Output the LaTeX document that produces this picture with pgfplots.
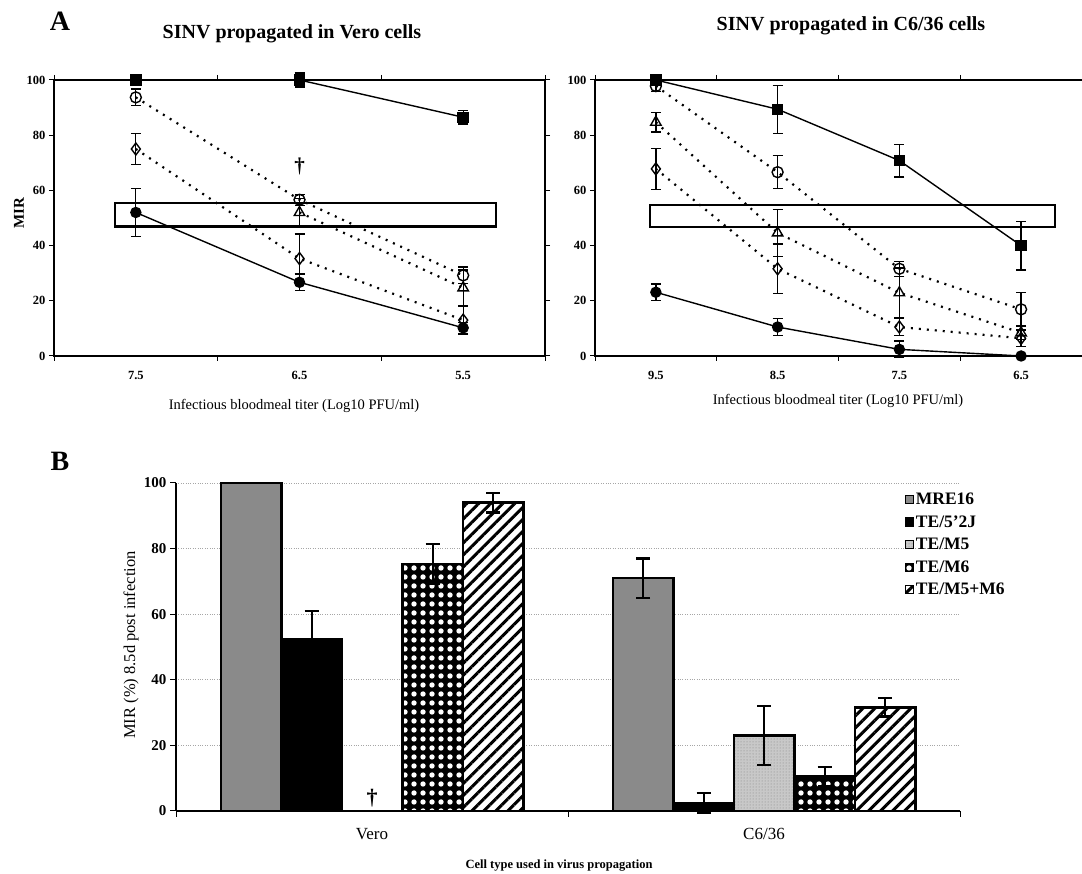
\documentclass[border=0pt]{standalone}
\usepackage{fontspec}
\setmainfont{Liberation Serif}
\usepackage{pgfplots}
\pgfplotsset{compat=1.18}
\usetikzlibrary{patterns,patterns.meta}
\definecolor{mregray}{RGB}{138,138,138}
\definecolor{m5gray}{RGB}{200,200,200}
\definecolor{framegray}{RGB}{90,90,90}
\pgfplotsset{
  topax/.style={scale only axis, ymin=0, ymax=100, ytick={0,20,...,100},
    tick align=outside, major tick length=5pt,
    axis line style={line width=1.2pt}, tick style={line width=1pt, black},
    clip=false,
    tick label style={font=\bfseries\fontsize{12.5}{14}\selectfont},
    /pgf/number format/assume math mode=true,
    xticklabels={},
    extra x tick style={tick style={draw=none},
      tick label style={yshift=-7pt}}},
  solidline/.style={black, line width=1.4pt, mark options={solid}},
  dotline/.style={black, line width=2.2pt, dash pattern=on 2pt off 6pt,
    mark options={solid, fill=white, line width=1.4pt}},
  eb/.style={error bars/.cd, y dir=both, y explicit,
    error bar style={line width=1.3pt, solid},
    error mark options={rotate=90, mark size=5pt, line width=1.3pt, solid}},
  ebb/.style={error bars/.cd, y dir=both, y explicit,
    error bar style={line width=2pt, solid, black},
    error mark options={rotate=90, mark size=7pt, line width=2.2pt, solid, black}},
  onebar/.style={ybar, bar width=60.5, bar shift=0pt, draw=black, line width=2.5pt},
}
\begin{document}
\begin{tikzpicture}
\useasboundingbox (0,0) rectangle (1082pt,874pt);
\fill[white] (0,0) rectangle (1082pt,874pt);

% ---------------- Panel A left ----------------
\begin{axis}[topax, at={(54pt,518pt)}, anchor=south west,
  width=491pt, height=276pt, xmin=-0.5, xmax=2.5,
  xtick={-0.5,0.5,1.5,2.5},
  extra x ticks={0,1,2}, extra x tick labels={7.5,6.5,5.5}]
\addplot[black, line width=2.2pt, no marks, line cap=rect, line join=miter]
  coordinates {(-0.126,46.9) (2.2,46.9) (2.2,55.5) (-0.126,55.5) (-0.126,46.9)};
% MRE16 (filled square)
\addplot[solidline, mark=square*, mark size=5pt, eb] coordinates {
  (0,100) +- (0,0.5) (1,100) +- (0,2.5) (2,86.5) +- (0,2.5)};
% TE/M5+M6 (open circle)
\addplot[dotline, mark=o, mark size=5.5pt, eb] coordinates {
  (0,93.7) +- (0,3) (1,56.6) +- (0,2) (2,29.2) +- (0,3)};
% TE/M6 (open diamond)
\addplot[dotline, mark=diamond, mark size=6pt, eb] coordinates {
  (0,75) +- (0,5.6) (1,35.3) +- (0,8.9) (2,13) +- (0,5)};
% TE/M5 (open triangle)
\addplot[dotline, mark=triangle, mark size=6pt, eb] coordinates {
  (1,52) +- (0,5) (2,24.7) +- (0,6.5)};
% TE/5'2J (filled circle)
\addplot[solidline, mark=*, mark size=5pt, eb] coordinates {
  (0,52) +- (0,8.7) (1,26.7) +- (0,3) (2,10.2) +- (0,2)};
\node[font=\bfseries\fontsize{21}{21}\selectfont] at (axis cs:1,68.8) {\textdagger};
\end{axis}

% ---------------- Panel A right ----------------
\begin{axis}[topax, at={(595pt,518pt)}, anchor=south west,
  width=495pt, height=276pt, xmin=-0.5, xmax=3.566,
  xtick={-0.5,0.5,1.5,2.5},
  extra x ticks={0,1,2,3}, extra x tick labels={9.5,8.5,7.5,6.5}]
\addplot[black, line width=2.2pt, no marks, line cap=rect, line join=miter]
  coordinates {(-0.045,46.8) (3.28,46.8) (3.28,54.7) (-0.045,54.7) (-0.045,46.8)};
\addplot[solidline, mark=square*, mark size=5pt, eb] coordinates {
  (0,100) +- (0,0.5) (1,89.4) +- (0,8.7) (2,70.8) +- (0,5.9) (3,40) +- (0,8.8)};
\addplot[dotline, mark=o, mark size=5.5pt, eb] coordinates {
  (0,97.8) +- (0,2) (1,66.6) +- (0,6) (2,31.6) +- (0,2.7) (3,16.9) +- (0,6)};
\addplot[dotline, mark=triangle, mark size=6pt, eb] coordinates {
  (0,84.7) +- (0,3.5) (1,44.6) +- (0,8.5) (2,22.9) +- (0,9) (3,8.4) +- (0,2.5)};
\addplot[dotline, mark=diamond, mark size=6pt, eb] coordinates {
  (0,67.8) +- (0,7.4) (1,31.6) +- (0,9) (2,10.5) +- (0,3) (3,6.4) +- (0,3)};
\addplot[solidline, mark=*, mark size=5pt, eb] coordinates {
  (0,23.1) +- (0,3) (1,10.5) +- (0,3) (2,2.4) +- (0,3) (3,0) +- (0,0.5)};
\end{axis}

% ---------------- Panel B ----------------
\begin{axis}[scale only axis, at={(176pt,63pt)}, anchor=south west,
  width=784pt, height=328pt, xmin=176, xmax=960, ymin=0, ymax=100,
  axis x line*=bottom, axis y line*=left,
  axis line style={-, line width=1.3pt},
  ytick={0,20,...,100}, ymajorgrids,
  grid style={dotted, gray!70, line width=0.8pt},
  tick align=outside, major tick length=6pt,
  tick style={line width=1pt, black},
  tick label style={font=\bfseries\fontsize{15}{17}\selectfont},
  /pgf/number format/assume math mode=true,
  xtick={176,568,960}, xticklabels={},
  extra x ticks={372,764}, extra x tick labels={Vero,C6/36},
  extra x tick style={tick style={draw=none},
    tick label style={font=\fontsize{17}{20}\selectfont, yshift=-8pt}},
  clip=false,
  legend cell align=left,
  legend style={at={(axis cs:905,97.5)}, anchor=north west, draw=none, fill=none,
    font=\bfseries\fontsize{17.5}{19}\selectfont, row sep=6.5pt, inner sep=0pt,
    nodes={inner sep=1.5pt}},
  legend image code/.code={\draw[#1, line width=1.2pt] (0pt,-4pt) rectangle (8pt,4pt);}]
\addplot[onebar, fill=mregray, forget plot] coordinates {(251,100)};
\addplot[onebar, fill=mregray, ebb] coordinates {(643,71) +- (0,6)};
\addlegendentry{MRE16}
\addplot[onebar, fill=black, ebb] coordinates {
  (311.5,52.5) +- (0,8.5) (703.5,2.4) +- (0,3)};
\addlegendentry{TE/5'2J}
\addplot[onebar, fill=m5gray, postaction={pattern=dots, pattern color=gray}, ebb] coordinates {
  (764,23) +- (0,9)};
\addlegendentry{TE/M5}
\addplot[onebar, fill=black, postaction={pattern={Dots[distance=9pt,radius=2.7pt]}, pattern color=white}, ebb] coordinates {
  (432.5,75.3) +- (0,6) (824.5,10.5) +- (0,3)};
\addlegendentry{TE/M6}
\addplot[onebar, fill=white, postaction={pattern={Lines[angle=45,distance=8.5pt,line width=3pt]}, pattern color=black}, ebb] coordinates {
  (493,94) +- (0,3) (885,31.6) +- (0,2.8)};
\addlegendentry{TE/M5+M6}
\node[font=\bfseries\fontsize{22}{22}\selectfont] at (axis cs:372,4) {\textdagger};
\end{axis}

% ---------------- Texts ----------------
\node[font=\bfseries\fontsize{28}{30}\selectfont] at (60pt,853pt) {A};
\node[font=\bfseries\fontsize{28}{30}\selectfont] at (60pt,413pt) {B};
\node[font=\bfseries\fontsize{20}{22}\selectfont] at (292pt,840pt) {SINV propagated in Vero cells};
\node[font=\bfseries\fontsize{20}{22}\selectfont] at (851pt,848pt) {SINV propagated in C6/36 cells};
\node[font=\fontsize{14.5}{16}\selectfont] at (294pt,468pt) {Infectious bloodmeal titer (Log10 PFU/ml)};
\node[font=\fontsize{14.5}{16}\selectfont] at (838pt,473pt) {Infectious bloodmeal titer (Log10 PFU/ml)};
\node[font=\bfseries\fontsize{15}{17}\selectfont, rotate=90] at (19pt,661pt) {MIR};
\node[font=\fontsize{16.5}{18}\selectfont, rotate=90] at (131pt,229pt) {MIR (\%) 8.5d post infection};
\node[font=\bfseries\fontsize{12.5}{14}\selectfont] at (559pt,8pt) {Cell type used in virus propagation};
\end{tikzpicture}
\end{document}
